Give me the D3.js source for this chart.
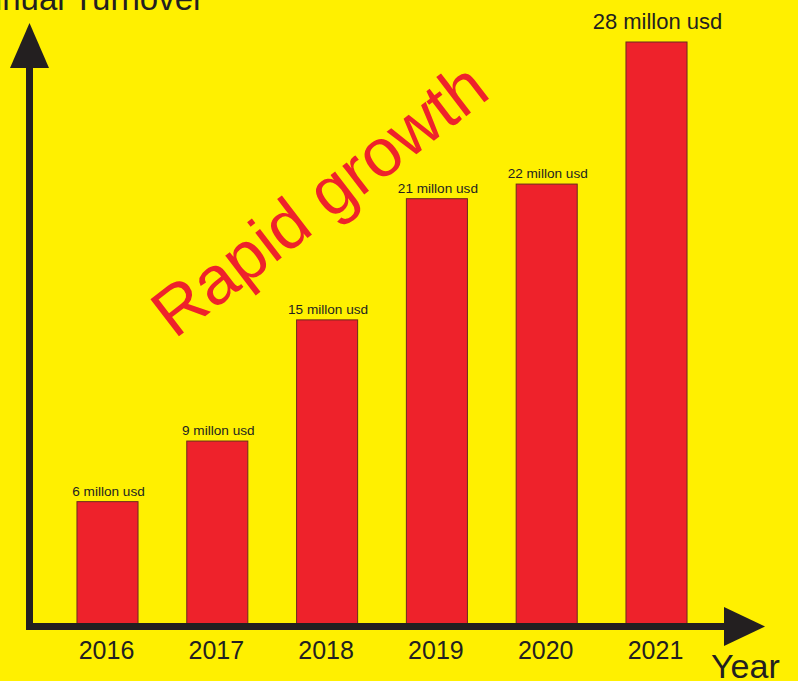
<!DOCTYPE html>
<html lang="en">
<head>
    <meta charset="UTF-8">
    <title>Annual Turnover</title>
    <script src="https://d3js.org/d3.v7.min.js"></script>
    <style>
        body { margin: 0; background: #FFF000; }
        text { font-family: Arial, "Liberation Sans", sans-serif; fill: #231F20; }
    </style>
</head>
<body>
    <div id="chart"></div>
    <script>
        // data
        const years = ["2016", "2017", "2018", "2019", "2020", "2021"];
        const turnover = [6, 8.9, 14.7, 20.5, 21.2, 28];   // bar heights as drawn
        const labels = ["6 millon usd", "9 millon usd", "15 millon usd", "21 millon usd", "22 millon usd", "28 millon usd"];

        const chartData = years.map((y, i) => ({ year: y, value: turnover[i], label: labels[i] }));

        const width = 798;
        const height = 681;

        const x = d3.scaleBand()
            .domain(years)
            .range([52.6, 711.4])
            .paddingInner(0.444)
            .paddingOuter(0.222);

        const y = d3.scaleLinear()
            .domain([0, 28])
            .range([627, 42]);

        const svg = d3.select("#chart").append("svg")
            .attr("width", width)
            .attr("height", height)
            .style("display", "block");

        svg.append("rect")
            .attr("width", width)
            .attr("height", height)
            .attr("fill", "#FFF000");

        // bars
        svg.append("g")
            .selectAll("rect")
            .data(chartData)
            .enter().append("rect")
            .attr("x", d => x(d.year))
            .attr("y", d => y(d.value))
            .attr("width", x.bandwidth())
            .attr("height", d => y(0) - y(d.value))
            .attr("fill", "#EE222B")
            .attr("stroke", "#6B2A1E")
            .attr("stroke-width", 1);

        // value labels (last one is bigger)
        const last = chartData.length - 1;
        svg.append("g")
            .selectAll("text")
            .data(chartData)
            .enter().append("text")
            .attr("x", d => x(d.year) + x.bandwidth() / 2 + 1)
            .attr("y", (d, i) => i === last ? y(d.value) - 13 : y(d.value) - 6)
            .attr("text-anchor", "middle")
            .style("font-size", (d, i) => i === last ? "22px" : "13.6px")
            .text(d => d.label);

        // axes (thick arrows)
        const axisColor = "#231F20";
        svg.append("path")
            .attr("d", "M29.5,630 L29.5,60 M26,626.5 L730,626.5")
            .attr("stroke", axisColor)
            .attr("stroke-width", 7)
            .attr("fill", "none");
        svg.append("path")
            .attr("d", "M29.5,23 L49,68 L10,68 Z")
            .attr("fill", axisColor);
        svg.append("path")
            .attr("d", "M765,626.5 L724,607 L724,646 Z")
            .attr("fill", axisColor);

        // year ticks
        const xAxis = svg.append("g")
            .attr("transform", "translate(-1,627)")
            .call(d3.axisBottom(x).tickSize(0).tickPadding(14));
        xAxis.select(".domain").remove();
        xAxis.selectAll("text")
            .style("font-size", "25px")
            .style("font-family", "Arial, 'Liberation Sans', sans-serif")
            .attr("fill", axisColor);

        // axis titles
        svg.append("text")
            .attr("x", 204)
            .attr("y", 10)
            .attr("text-anchor", "end")
            .style("font-size", "33px")
            .text("Annual Turnover");

        svg.append("text")
            .attr("x", 711)
            .attr("y", 678)
            .style("font-size", "34px")
            .text("Year");

        // annotation
        svg.append("text")
            .attr("transform", "translate(319,199) rotate(-37.5)")
            .attr("text-anchor", "middle")
            .attr("dy", "0.35em")
            .style("font-size", "68px")
            .style("fill", "#EE222B")
            .text("Rapid growth");
    </script>
</body>
</html>
